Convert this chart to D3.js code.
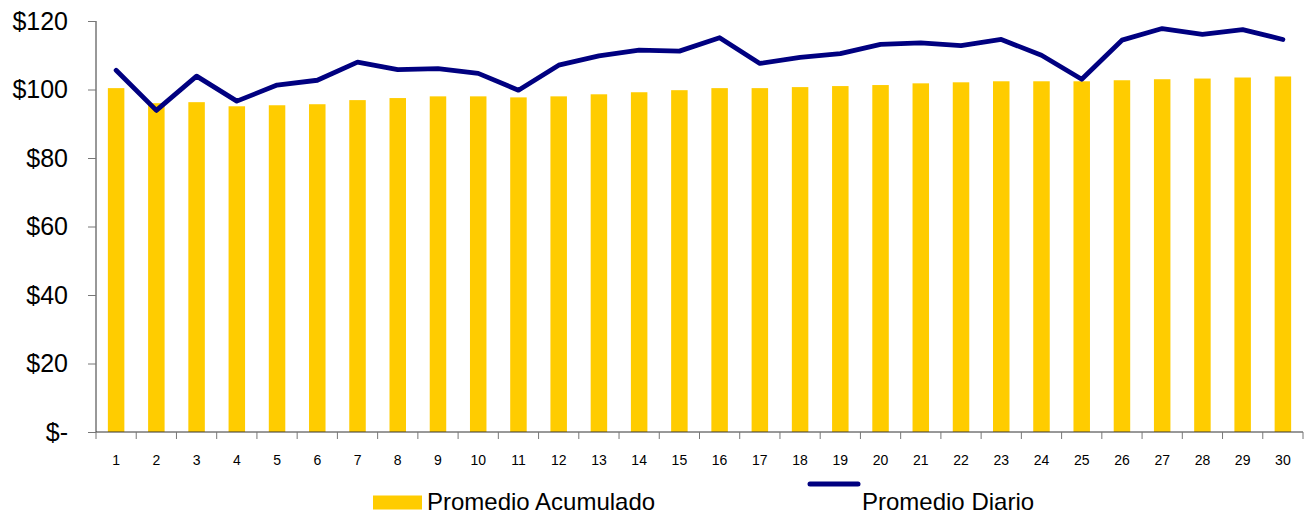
<!DOCTYPE html>
<html>
<head>
<meta charset="utf-8">
<script src="https://cdn.jsdelivr.net/npm/d3@7"></script>
<style>
  body { margin: 0; background: #fff; }
  svg { display: block; font-family: "Liberation Sans", Arial, sans-serif; }
</style>
</head>
<body>
<svg id="chart" width="1307" height="516"></svg>
<script>
// data
const days = d3.range(1, 31);
const acumulado = [100.4, 96.0, 96.3, 95.1, 95.4, 95.7, 96.9, 97.5, 98.0, 98.0,
                   97.7, 98.0, 98.6, 99.2, 99.8, 100.4, 100.4, 100.7, 101.0, 101.3,
                   101.8, 102.1, 102.4, 102.4, 102.4, 102.7, 103.0, 103.2, 103.5, 103.8];
const diario = [105.6, 93.9, 103.9, 96.6, 101.3, 102.7, 108.0, 105.8, 106.1, 104.7,
                99.8, 107.1, 109.8, 111.5, 111.2, 115.1, 107.6, 109.4, 110.5, 113.2,
                113.6, 112.8, 114.6, 110.0, 103.0, 114.4, 117.8, 116.1, 117.5, 114.6];
const yTicks = [0, 20, 40, 60, 80, 100, 120];

const svg = d3.select("#chart");
const mLeft = 96, mRight = 1303, mTop = 21, mBottom = 432;

const x = d3.scaleBand().domain(days).range([mLeft, mRight]).padding(0);
const y = d3.scaleLinear().domain([0, 120]).range([mBottom, mTop]);
const barW = x.bandwidth() * 0.41;

// bars
svg.append("g").selectAll("rect")
  .data(days)
  .enter().append("rect")
  .attr("x", d => x(d) + (x.bandwidth() - barW) / 2)
  .attr("y", (d, i) => y(acumulado[i]))
  .attr("width", barW)
  .attr("height", (d, i) => y(0) - y(acumulado[i]))
  .attr("fill", "#FFCC00");

// y axis
const yAxis = svg.append("g")
  .attr("transform", `translate(${mLeft},0)`)
  .call(d3.axisLeft(y).tickValues(yTicks).tickSize(8).tickPadding(20)
    .tickFormat(d => d === 0 ? "$-" : "$" + d));
yAxis.select(".domain").attr("stroke", "#333").attr("d", `M0,${mTop}V${mBottom}`);
yAxis.selectAll(".tick line").attr("stroke", "#777");
yAxis.selectAll("text").attr("font-size", 25).attr("fill", "#000")
  .attr("font-family", "Liberation Sans, Arial, sans-serif");

// x axis: ticks at band boundaries
const xAxis = svg.append("g")
  .attr("transform", `translate(0,${mBottom})`)
  .call(d3.axisBottom(x).tickSize(0).tickPadding(23));
xAxis.select(".domain").attr("stroke", "#333").attr("d", `M${mLeft},0H${mRight}`);
xAxis.selectAll("text").attr("font-size", 14).attr("fill", "#000")
  .attr("font-family", "Liberation Sans, Arial, sans-serif");
xAxis.append("g").selectAll("line")
  .data(d3.range(0, 31))
  .enter().append("line")
  .attr("x1", i => mLeft + i * x.step())
  .attr("x2", i => mLeft + i * x.step())
  .attr("y1", 0).attr("y2", 7)
  .attr("stroke", "#777");

// daily line
const line = d3.line()
  .x((d, i) => x(days[i]) + x.bandwidth() / 2)
  .y(d => y(d));
svg.append("path")
  .datum(diario)
  .attr("d", line)
  .attr("fill", "none")
  .attr("stroke", "#000080")
  .attr("stroke-width", 4.8)
  .attr("stroke-linejoin", "round")
  .attr("stroke-linecap", "round");

// legend
const legend = svg.append("g").attr("font-size", 24);
legend.append("rect")
  .attr("x", 373).attr("y", 495.5).attr("width", 49).attr("height", 14)
  .attr("fill", "#FFCC00");
legend.append("text").attr("x", 427).attr("y", 510).text("Promedio Acumulado");
legend.append("line")
  .attr("x1", 810).attr("x2", 858).attr("y1", 484).attr("y2", 484)
  .attr("stroke", "#000080").attr("stroke-width", 5).attr("stroke-linecap", "round");
legend.append("text").attr("x", 862).attr("y", 510).text("Promedio Diario");
</script>
</body>
</html>
